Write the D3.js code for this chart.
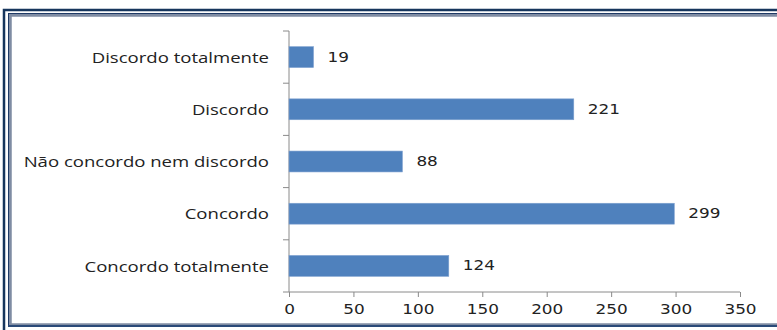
<!DOCTYPE html>
<html>
<head>
<meta charset="utf-8">
<script src="https://cdn.jsdelivr.net/npm/d3@7"></script>
<style>
  html, body { margin: 0; padding: 0; background: #fff; }
  svg { display: block; }
  text { fill: #222; }
  .cat { font-family: "Open Sans", "DejaVu Sans", sans-serif; }
  .num { font-family: "DejaVu Sans", sans-serif; }
</style>
</head>
<body>
<svg id="chart" width="777" height="330"></svg>
<script>
// Survey answers, top to bottom
const categories = [
  "Discordo totalmente",
  "Discordo",
  "Não concordo nem discordo",
  "Concordo",
  "Concordo totalmente"
];
const counts = [19, 221, 88, 299, 124];
const xTicks = [0, 50, 100, 150, 200, 250, 300, 350];

const svg = d3.select("#chart");
const W = 777, H = 330;

// Double frame around the chart area
svg.append("rect").attr("x", 4).attr("y", 10).attr("width", W + 10).attr("height", H)
  .attr("fill", "none").attr("stroke", "#17365d").attr("stroke-width", 2.5);
svg.append("rect").attr("x", 10).attr("y", 15).attr("width", W + 10).attr("height", 310)
  .attr("fill", "none").attr("stroke", "#7f8ca3").attr("stroke-width", 3.5);
svg.append("line").attr("x1", 8.5).attr("x2", 8.5).attr("y1", 13).attr("y2", 327)
  .attr("stroke", "#1f3a66").attr("stroke-width", 1);
svg.append("line").attr("x1", 8.5).attr("x2", W).attr("y1", 13.5).attr("y2", 13.5)
  .attr("stroke", "#1f3a66").attr("stroke-width", 1);
svg.append("line").attr("x1", 8).attr("x2", W).attr("y1", 326).attr("y2", 326)
  .attr("stroke", "#2a4a78").attr("stroke-width", 2);

const plotLeft = 289, plotRight = 740, plotTop = 31, plotBottom = 292;
const stretch = 1.25; // wide lettering

const x = d3.scaleLinear().domain([0, 350]).range([plotLeft, plotRight]);
const y = d3.scaleBand().domain(categories).range([plotTop, plotBottom]).paddingInner(0.6).paddingOuter(0.3);

// Horizontal value axis
const xAxis = svg.append("g")
  .attr("transform", `translate(0,${plotBottom})`)
  .call(d3.axisBottom(x).tickValues(xTicks).tickSize(5).tickPadding(7).tickFormat(d3.format("d")));
xAxis.select(".domain").attr("stroke", "#8a8a8a").attr("d", `M${plotLeft},0H${plotRight}`);
xAxis.selectAll(".tick line").attr("stroke", "#8a8a8a");
xAxis.selectAll(".tick text")
  .attr("class", "num")
  .attr("font-size", 13.5)
  .attr("fill", "#222")
  .attr("transform", `scale(${stretch},1)`);

// Category axis: tick marks sit on band boundaries
const step = (plotBottom - plotTop) / categories.length;
const yAxisG = svg.append("g");
yAxisG.append("line").attr("x1", plotLeft).attr("x2", plotLeft).attr("y1", plotTop).attr("y2", plotBottom)
  .attr("stroke", "#8a8a8a");
yAxisG.selectAll("line.tk").data(d3.range(categories.length + 1)).join("line")
  .attr("class", "tk")
  .attr("x1", plotLeft - 6).attr("x2", plotLeft)
  .attr("y1", i => plotTop + i * step).attr("y2", i => plotTop + i * step)
  .attr("stroke", "#8a8a8a");

yAxisG.selectAll("text.cat").data(categories).join("text")
  .attr("class", "cat")
  .attr("text-anchor", "end")
  .attr("dominant-baseline", "central")
  .attr("font-size", 14.5)
  .attr("transform", d => `translate(269,${y(d) + y.bandwidth() / 2}) scale(1.28,1)`)
  .text(d => d);

// Bars
svg.selectAll("rect.bar").data(categories).join("rect")
  .attr("class", "bar")
  .attr("x", x(0))
  .attr("y", d => y(d))
  .attr("width", (d, i) => x(counts[i]) - x(0))
  .attr("height", y.bandwidth())
  .attr("fill", "#4f81bd")
  .attr("stroke", "#7da0cf")
  .attr("stroke-width", 0.6);

// Value labels
svg.selectAll("text.val").data(categories).join("text")
  .attr("class", "val num")
  .attr("dominant-baseline", "central")
  .attr("font-size", 13.5)
  .attr("transform", (d, i) => `translate(${x(counts[i]) + 14},${y(d) + y.bandwidth() / 2}) scale(${stretch},1)`)
  .text((d, i) => counts[i]);
</script>
</body>
</html>
